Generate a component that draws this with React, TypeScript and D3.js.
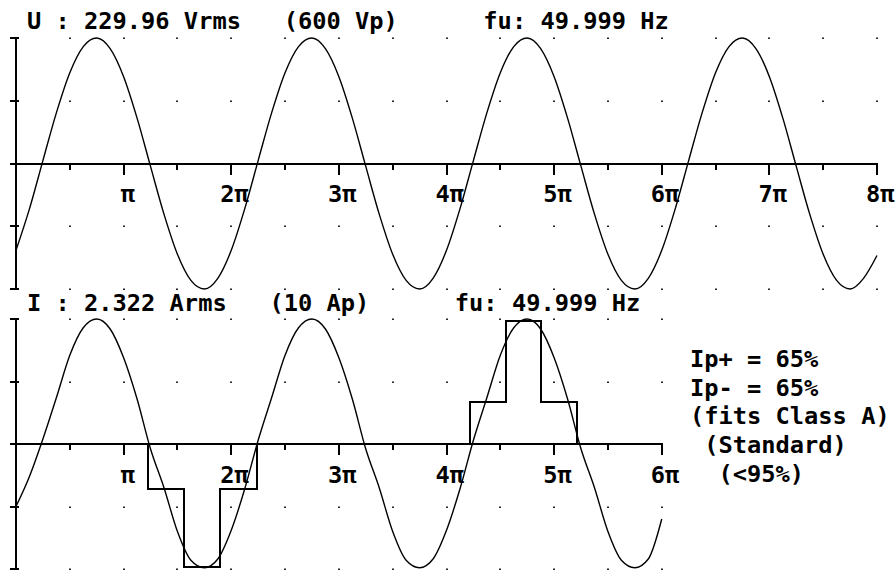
import React from "react";
import * as d3 from "d3";

const W = 896;
const H = 571;

// sampling step of the waveforms, in units of π
const sampleStep = 0.125;

// U waveform (V), read every π/8 from 0 to 8π
const uSamples = [
  -415, -217, 14, 242, 434, 559, 600, 549, 415, 217, -14, -242, -434, -559, -600, -549,
  -415, -217, 14, 242, 434, 559, 600, 549, 415, 217, -14, -242, -434, -559, -600, -549,
  -415, -217, 14, 242, 434, 559, 600, 549, 415, 217, -14, -242, -434, -559, -600, -549,
  -415, -217, 14, 242, 434, 559, 600, 549, 415, 217, -14, -242, -434, -559, -600, -549,
  -440,
];

// I waveform (A), read every π/8 from 0 to 6π
const iSamples = [
  -5.0, -2.6, 0.4, 3.7, 7.1, 9.3, 10, 9.2, 6.9, 3.6, -0.4, -3.5, -7.0, -9.3, -9.9, -9.2,
  -6.9, -3.6, 0.3, 3.7, 7.1, 9.3, 10, 9.2, 6.9, 3.6, -0.4, -3.5, -7.0, -9.3, -9.9, -9.2,
  -6.9, -3.6, 0.3, 3.7, 7.1, 9.3, 10, 9.2, 6.9, 3.6, -0.4, -3.5, -7.0, -9.3, -9.9, -9.2,
  -6.0,
];

// Ip staircase limits (x in units of π, y in A)
const negPulseX = [1.226, 1.226, 1.56, 1.9, 2.236];
const negPulseY = [0, -3.6, -9.85, -3.6, 0];
const posPulseX = [4.215, 4.215, 4.55, 4.88, 5.21];
const posPulseY = [0, 3.4, 9.85, 3.4, 0];

// axis ticks
const topXMax = 8;
const bottomXMax = 6;
const uTicks = [-600, -300, 300, 600];
const iTicks = [-10, -5, 5, 10];
const topXLabels = ["π", "2π", "3π", "4π", "5π", "6π", "7π", "8π"];
const bottomXLabels = ["π", "2π", "3π", "4π", "5π", "6π"];

// header texts
const topHeader = "U : 229.96 Vrms   (600 Vp)      fu: 49.999 Hz";
const bottomHeader = "I : 2.322 Arms   (10 Ap)      fu: 49.999 Hz";
const sideLines = ["Ip+ = 65%", "Ip- = 65%", "(fits Class A)", " (Standard)", "  (<95%)"];

const FONT = "'DejaVu Sans Mono', monospace";
const FS = 23.7;

const x = d3.scaleLinear().domain([0, 8]).range([16, 877]);
const yU = d3.scaleLinear().domain([-600, 600]).range([289, 38]);
const yI = d3.scaleLinear().domain([-10, 10]).range([569, 319]);

function Panel({
  y,
  ticks,
  xMax,
  labels,
  labelBaseline,
}: {
  y: d3.ScaleLinear<number, number>;
  ticks: number[];
  xMax: number;
  labels: string[];
  labelBaseline: number;
}) {
  const y0 = Math.round(y(0));
  const [yMin, yMax] = y.domain();
  const halfSteps = d3.range(1, xMax * 2 + 1).map((k) => k / 2);
  return (
    <g>
      {/* grid dots */}
      {ticks.map((t) =>
        halfSteps.map((h) => (
          <rect
            key={`d${t}-${h}`}
            x={Math.round(x(h)) - 1}
            y={Math.round(y(t)) - 0.5}
            width={2}
            height={1.5}
            fill="#222"
          />
        ))
      )}
      {/* y axis */}
      <line
        x1={16}
        x2={16}
        y1={Math.round(y(yMax))}
        y2={Math.round(y(yMin))}
        stroke="#000"
        strokeWidth={2}
        shapeRendering="crispEdges"
      />
      {ticks.map((t) => (
        <line
          key={`yt${t}`}
          x1={10}
          x2={19}
          y1={Math.round(y(t))}
          y2={Math.round(y(t))}
          stroke="#000"
          strokeWidth={2}
          shapeRendering="crispEdges"
        />
      ))}
      {/* zero axis */}
      <line
        x1={10}
        x2={x(xMax) + 1}
        y1={y0}
        y2={y0}
        stroke="#000"
        strokeWidth={2}
        shapeRendering="crispEdges"
      />
      {halfSteps.map((h) => (
        <line
          key={`xt${h}`}
          x1={Math.round(x(h))}
          x2={Math.round(x(h))}
          y1={y0}
          y2={y0 + (Number.isInteger(h) ? 11 : 6)}
          stroke="#000"
          strokeWidth={2}
          shapeRendering="crispEdges"
        />
      ))}
      {labels.map((l, i) => (
        <text
          key={`xl${i}`}
          x={x(i + 1) + (l.length === 1 ? -3 : -11)}
          y={labelBaseline}
          fontFamily={FONT}
          fontSize={FS}
          fontWeight="bold"
          fill="#000"
        >
          {l}
        </text>
      ))}
    </g>
  );
}

export default function App() {
  const uLine = d3
    .line<number>()
    .x((_, i) => x(i * sampleStep))
    .y((d) => yU(d))
    .curve(d3.curveMonotoneX);
  const iLine = d3
    .line<number>()
    .x((_, i) => x(i * sampleStep))
    .y((d) => yI(d))
    .curve(d3.curveMonotoneX);
  const stepLine = d3
    .line<[number, number]>()
    .x((d) => x(d[0]))
    .y((d) => yI(d[1]))
    .curve(d3.curveLinear);
  const neg = negPulseX.map((v, i) => [v, negPulseY[i]] as [number, number]);
  const pos = posPulseX.map((v, i) => [v, posPulseY[i]] as [number, number]);
  const stepPts = (pts: [number, number][]) => {
    const out: [number, number][] = [];
    pts.forEach((p, i) => {
      if (i > 0) out.push([p[0], pts[i - 1][1]]);
      out.push(p);
    });
    return out;
  };

  const textProps = {
    fontFamily: FONT,
    fontSize: FS,
    fontWeight: "bold" as const,
    fill: "#000",
    style: { whiteSpace: "pre" as const },
  };

  return (
    <svg
      width={W}
      height={H}
      style={{ position: "absolute", left: 0, top: 0, background: "#fff" }}
    >
      <rect x={0} y={0} width={W} height={H} fill="#fff" />
      <Panel y={yU} ticks={uTicks} xMax={topXMax} labels={topXLabels} labelBaseline={202} />
      <Panel y={yI} ticks={iTicks} xMax={bottomXMax} labels={bottomXLabels} labelBaseline={483} />

      <path d={uLine(uSamples) || ""} fill="none" stroke="#000" strokeWidth={1.4} />
      <path d={iLine(iSamples) || ""} fill="none" stroke="#000" strokeWidth={1.4} />
      <path
        d={stepLine(stepPts(neg)) || ""}
        fill="none"
        stroke="#000"
        strokeWidth={2}
        shapeRendering="crispEdges"
      />
      <path
        d={stepLine(stepPts(pos)) || ""}
        fill="none"
        stroke="#000"
        strokeWidth={2}
        shapeRendering="crispEdges"
      />

      <text x={27} y={29} {...textProps}>
        {topHeader}
      </text>
      <text x={27} y={311} {...textProps}>
        {bottomHeader}
      </text>
      {sideLines.map((s, i) => (
        <text key={s} x={690} y={367 + i * 28.7} {...textProps}>
          {s}
        </text>
      ))}
    </svg>
  );
}
